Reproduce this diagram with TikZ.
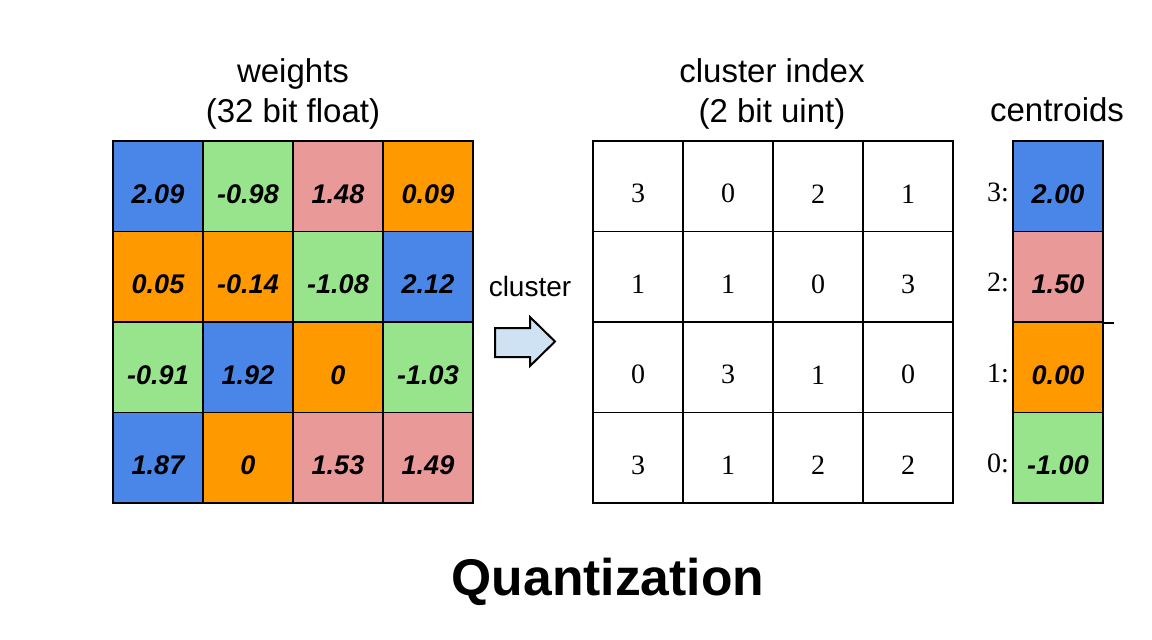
\documentclass[tikz,border=0pt]{standalone}
\usepackage{fontspec}
\setmainfont{Liberation Sans}
\newfontfamily\idxfont{Liberation Serif}
\usetikzlibrary{positioning}
\definecolor{cblue}{HTML}{4A86E8}
\definecolor{cpink}{HTML}{EA9999}
\definecolor{corange}{HTML}{FF9900}
\definecolor{cgreen}{HTML}{98E48D}
\definecolor{arrowblue}{HTML}{CFE2F3}
\colorlet{idx0}{cgreen}
\colorlet{idx1}{corange}
\colorlet{idx2}{cpink}
\colorlet{idx3}{cblue}
\begin{document}
\begin{tikzpicture}[x=0.5pt,y=-0.5pt,
		wcell/.style={draw,line width=0.8pt,minimum width=45pt,minimum height=45.25pt,inner sep=0pt},
		wnum/.style={font=\fontsize{13.5}{16}\selectfont\bfseries\itshape},
		inum/.style={font=\fontsize{14}{17}\selectfont\idxfont},
		lbl/.style={align=center,font=\fontsize{16.5}{20}\selectfont}]
	\useasboundingbox (0,0) rectangle (1152,639);
	% weights and cluster index
	\foreach \row [count=\r] in {{2.09/3,-0.98/0,1.48/2,0.09/1},{0.05/1,-0.14/1,-1.08/0,2.12/3},{-0.91/0,1.92/3,0/1,-1.03/0},{1.87/3,0/1,1.53/2,1.49/2}}
		\foreach \v/\k [count=\c] in \row {
			\node[wcell,fill=idx\k] (w-\r-\c) at (68+90*\c,95.75+90.5*\r) {};
			\node[wnum] at ([yshift=-3.75pt]w-\r-\c.center) {\v};
			\node[wcell] (q-\r-\c) at (548+90*\c,95.75+90.5*\r) {};
			\node[inum] at ([yshift=-3.75pt]q-\r-\c.center) {\k};
		}
	% centroids
	\foreach \v/\k [count=\r] in {2.00/3,1.50/2,0.00/1,-1.00/0} {
		\node[wcell,fill=idx\k] (c-\k) at (1058,95.75+90.5*\r) {};
		\node[wnum] at ([yshift=-3.75pt]c-\k.center) {\v};
		\node[inum,anchor=east,inner sep=0pt] at ([xshift=-1.5pt,yshift=-3pt]c-\k.west) {\k:};
	}
	\draw[line width=0.8pt] (c-2.south east) -- ++(10,0);
	% arrow
	\draw[line width=1pt,fill=arrowblue,line join=miter] (495,328) -- (530,328) -- (530,317) -- (555,341.5) -- (530,366) -- (530,357) -- (495,357) -- cycle;
	\node[lbl,anchor=base,font=\fontsize{14}{17}\selectfont] (arrlab) at (530,296) {cluster};
	% labels
	\node[lbl] (wlab) at (293,94) {weights\\(32 bit float)};
	\node[lbl] (qlab) at (772,94) {cluster index\\(2 bit uint)};
	\node[lbl,anchor=base] (clab) at (1057,121) {centroids};
	\node[anchor=base,font=\fontsize{25.8}{30}\selectfont\bfseries] (title) at (608,595) {Quantization};
\end{tikzpicture}
\end{document}
